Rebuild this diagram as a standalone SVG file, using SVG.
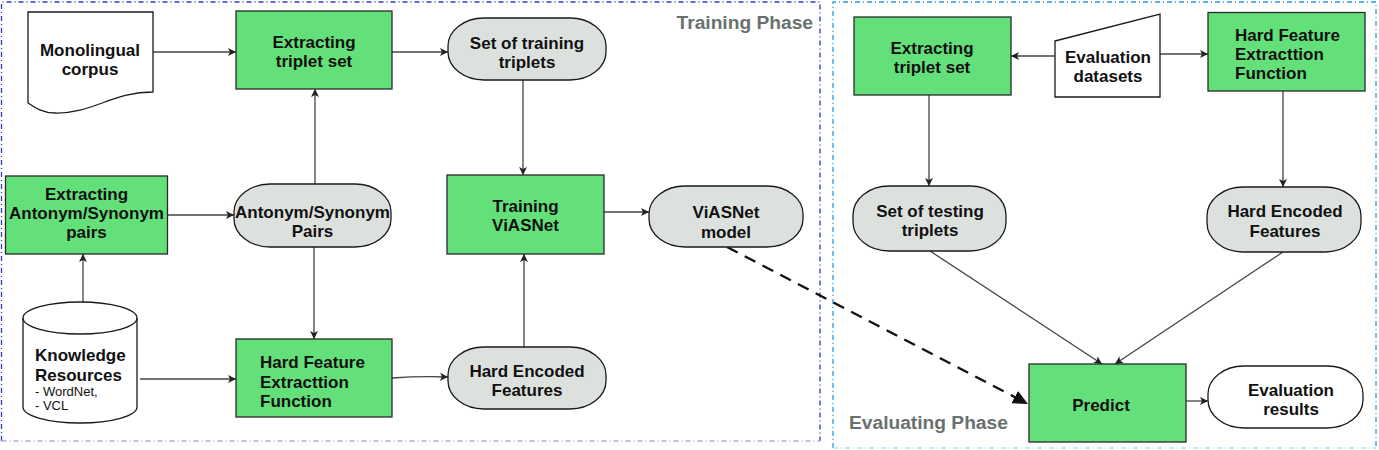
<svg xmlns="http://www.w3.org/2000/svg" width="1379" height="450" viewBox="0 0 1379 450">
<style>
.t{font-family:"Liberation Sans",Arial,sans-serif;font-weight:bold;font-size:17px;fill:#111;text-anchor:middle}
.l{text-anchor:start}
.s{font-family:"Liberation Sans",Arial,sans-serif;font-size:13px;fill:#111}
.ph{font-family:"Liberation Sans",Arial,sans-serif;font-weight:bold;font-size:19.2px;fill:#69716f}
.box{fill:#64e07a;stroke:#2a2a2a;stroke-width:1.3}
.ov{fill:#dce1de;stroke:#1a1a1a;stroke-width:1.3}
.wh{fill:#fff;stroke:#1a1a1a;stroke-width:1.3}
.c{fill:none;stroke:#444;stroke-width:1.3;marker-end:url(#a)}
</style>
<defs>
<marker id="a" markerUnits="userSpaceOnUse" markerWidth="10" markerHeight="10" refX="8" refY="4" orient="auto">
<path d="M0,0 L8,4 L0,8 L2,4 Z" fill="#222"/>
</marker>
<marker id="b" markerUnits="userSpaceOnUse" markerWidth="18" markerHeight="16" refX="15" refY="7" orient="auto">
<path d="M0,0 L15,7 L0,14 Z" fill="#111"/>
</marker>
</defs>

<g id="phases">
<g stroke-dasharray="5 3 1 3" stroke-width="1.3" fill="none">
<path d="M1.5,441 V2 H820 V441" stroke="#2b3fc4"/>
<path d="M1.5,441 H820" stroke="#a9b0dd"/>
<path d="M833,448 V2 H1376 V448" stroke="#2a9be8"/>
<path d="M833,448 H1376" stroke="#a8e4f0"/>
</g>
<text class="ph" x="813" y="29" text-anchor="end">Training Phase</text>
<text class="ph" x="849" y="429">Evaluating Phase</text>
</g>

<g id="connectors">
<line class="c" x1="153" y1="52" x2="236" y2="52"/>
<line class="c" x1="392" y1="52" x2="448" y2="52"/>
<line class="c" x1="523" y1="80" x2="523" y2="175"/>
<line class="c" x1="315" y1="184" x2="315" y2="89"/>
<line class="c" x1="168" y1="215" x2="234" y2="215"/>
<line class="c" x1="83" y1="302" x2="83" y2="254"/>
<line class="c" x1="314" y1="247" x2="314" y2="339"/>
<line class="c" x1="140" y1="379" x2="236" y2="379" stroke-width="2"/>
<path class="c" d="M392,378 Q420,376 448,377"/>
<line class="c" x1="524" y1="347" x2="524" y2="254"/>
<line class="c" x1="604" y1="212" x2="649" y2="212"/>
<line x1="727" y1="247" x2="1028" y2="404" stroke="#111" stroke-width="2.4" stroke-dasharray="12 8" marker-end="url(#b)"/>
<line class="c" x1="1055" y1="56" x2="1011" y2="56"/>
<line class="c" x1="1160" y1="54" x2="1208" y2="54"/>
<line class="c" x1="929" y1="95" x2="929" y2="186"/>
<line class="c" x1="1283" y1="91" x2="1283" y2="187"/>
<line class="c" x1="930" y1="251" x2="1102" y2="364"/>
<line class="c" x1="1283" y1="252" x2="1115" y2="364"/>
<line class="c" x1="1186" y1="401" x2="1208" y2="401"/>
</g>

<g id="monolingual-corpus">
<path class="wh" d="M28,12 H153 V92 C112,92 92,114 55,113 C42,113 34,107 28,103 Z"/>
<text class="t" x="90" y="56">Monolingual</text>
<text class="t" x="90" y="75">corpus</text>
</g>

<g id="extracting-triplet-train">
<rect class="box" x="236" y="11" width="156" height="78"/>
<text class="t" x="314" y="48">Extracting</text>
<text class="t" x="314" y="67">triplet set</text>
</g>

<g id="set-training-triplets">
<rect class="ov" x="448" y="18" width="158" height="62" rx="36" ry="28"/>
<text class="t" x="527" y="49">Set of training</text>
<text class="t" x="527" y="68">triplets</text>
</g>

<g id="extracting-antonym">
<rect class="box" x="5.5" y="176" width="162" height="78"/>
<text class="t" x="86.5" y="200">Extracting</text>
<text class="t" x="86.5" y="219">Antonym/Synonym</text>
<text class="t" x="86.5" y="238">pairs</text>
</g>

<g id="antonym-pairs">
<rect class="ov" x="234" y="184" width="157" height="63" rx="36" ry="28"/>
<text class="t" x="312.5" y="218">Antonym/Synonym</text>
<text class="t" x="312.5" y="237">Pairs</text>
</g>

<g id="training-viasnet">
<rect class="box" x="447" y="175" width="157" height="79"/>
<text class="t" x="525.5" y="212">Training</text>
<text class="t" x="525.5" y="231">ViASNet</text>
</g>

<g id="viasnet-model">
<rect class="ov" x="649" y="186" width="154" height="61" rx="36" ry="28"/>
<text class="t" x="726" y="218">ViASNet</text>
<text class="t" x="726" y="238">model</text>
</g>

<g id="knowledge-resources">
<path class="wh" d="M23,318 A57,16 0 0 1 137,318 V407 A57,16 0 0 1 23,407 Z"/>
<path d="M23,318 A57,16 0 0 0 137,318" fill="none" stroke="#1a1a1a" stroke-width="1.3"/>
<text class="t l" x="35" y="361">Knowledge</text>
<text class="t l" x="35" y="381">Resources</text>
<text class="s" x="35" y="396">- WordNet,</text>
<text class="s" x="35" y="410">- VCL</text>
</g>

<g id="hard-feature-train">
<rect class="box" x="236" y="339" width="156" height="78"/>
<text class="t l" x="260" y="368">Hard Feature</text>
<text class="t l" x="260" y="388">Extracttion</text>
<text class="t l" x="260" y="407">Function</text>
</g>

<g id="hard-encoded-train">
<rect class="ov" x="448" y="347" width="158" height="62" rx="36" ry="28"/>
<text class="t" x="527" y="377">Hard Encoded</text>
<text class="t" x="527" y="396">Features</text>
</g>

<g id="extracting-triplet-eval">
<rect class="box" x="854" y="17" width="157" height="78"/>
<text class="t" x="932" y="54">Extracting</text>
<text class="t" x="932" y="73">triplet set</text>
</g>

<g id="evaluation-datasets">
<path class="wh" d="M1055,41 L1160,14 V97 H1055 Z"/>
<text class="t" x="1108" y="63">Evaluation</text>
<text class="t" x="1108" y="82">datasets</text>
</g>

<g id="hard-feature-eval">
<rect class="box" x="1208" y="12.5" width="157" height="78.5"/>
<text class="t l" x="1235" y="41">Hard Feature</text>
<text class="t l" x="1235" y="60">Extracttion</text>
<text class="t l" x="1235" y="79">Function</text>
</g>

<g id="set-testing-triplets">
<rect class="ov" x="853" y="186" width="153" height="65" rx="36" ry="29"/>
<text class="t" x="930" y="217">Set of testing</text>
<text class="t" x="930" y="236">triplets</text>
</g>

<g id="hard-encoded-eval">
<rect class="ov" x="1207" y="187" width="154" height="65" rx="36" ry="29"/>
<text class="t" x="1285" y="217">Hard Encoded</text>
<text class="t" x="1285" y="237">Features</text>
</g>

<g id="predict">
<rect class="box" x="1029" y="364" width="157" height="78"/>
<text class="t" x="1101" y="411">Predict</text>
</g>

<g id="evaluation-results">
<rect class="wh" x="1208" y="366" width="155" height="62" rx="36" ry="28"/>
<text class="t" x="1291" y="396">Evaluation</text>
<text class="t" x="1291" y="415">results</text>
</g>
</svg>
